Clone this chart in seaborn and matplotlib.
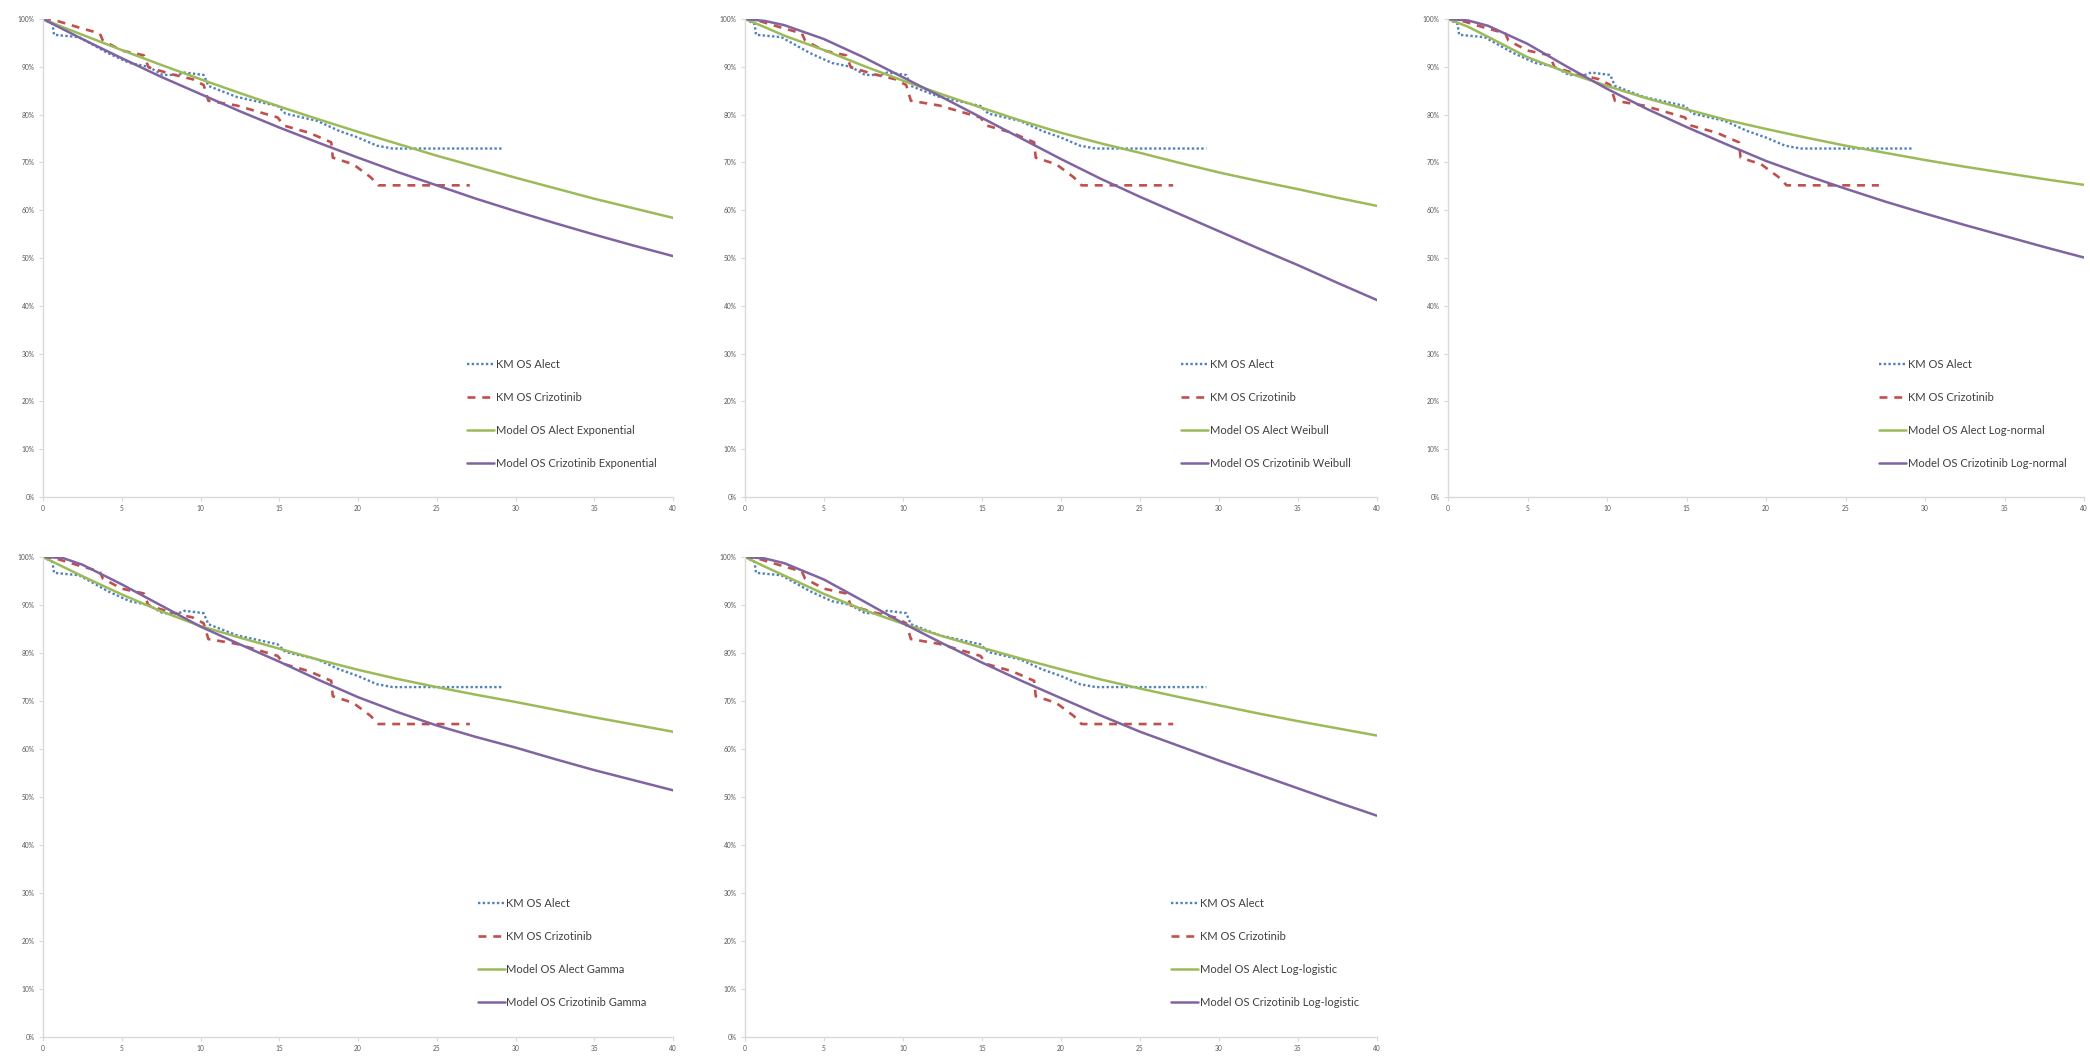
import numpy as np
import pandas as pd
import matplotlib
matplotlib.use("Agg")
import matplotlib.pyplot as plt
import seaborn as sns
from matplotlib.ticker import FuncFormatter

# ---------------- data ----------------
km_alect_t = [0, 0.6, 0.7, 2.3, 4.1, 5.5, 6.7, 7.6, 8.6, 9.0, 10.2, 10.5, 12.3, 14.9, 15.4,
              17.4, 18.8, 20.0, 21.2, 22.2, 29.2]
km_alect_s = [100, 99.0, 96.7, 96.2, 92.9, 90.8, 90.0, 88.3, 88.3, 88.8, 88.3, 86.0, 83.7, 81.8,
              80.2, 78.7, 76.6, 75.2, 73.5, 72.9, 72.9]

km_criz_t = [0, 1.0, 2.5, 3.6, 3.8, 5.0, 6.4, 6.7, 8.1, 9.5, 10.2, 10.5, 12.3, 14.9, 15.3,
             16.9, 18.3, 18.4, 19.7, 20.8, 21.3, 27.1]
km_criz_s = [100, 99.5, 98.0, 97.0, 95.5, 93.4, 92.4, 89.9, 88.5, 87.4, 86.2, 82.9, 81.9, 79.4,
             77.7, 76.2, 74.2, 71.0, 69.6, 66.9, 65.2, 65.2]

model_t = [0, 1.25, 2.5, 5, 7.5, 10, 12.5, 15, 17.5, 20, 22.5, 25, 27.5, 30, 32.5, 35, 37.5, 40]

alect_exponential = [100, 98.3, 96.7, 93.5, 90.4, 87.4, 84.5, 81.7, 79.0, 76.4, 73.9, 71.4, 69.1, 66.8, 64.6, 62.4, 60.4, 58.4]
criz_exponential = [100, 97.9, 95.8, 91.8, 87.9, 84.3, 80.7, 77.3, 74.1, 71.0, 68.0, 65.2, 62.4, 59.8, 57.3, 54.9, 52.6, 50.4]

alect_weibull = [100, 98.3, 96.5, 93.5, 90.2, 87.1, 84.2, 81.4, 78.7, 76.2, 74.0, 72.0, 69.9, 67.9, 66.1, 64.4, 62.6, 60.9]
criz_weibull = [100, 99.6, 98.7, 95.8, 92.0, 87.8, 83.6, 79.3, 75.0, 70.7, 66.6, 62.8, 59.2, 55.6, 52.0, 48.5, 44.8, 41.2]

alect_lognormal = [100, 98.4, 96.3, 92.0, 88.8, 86.0, 83.4, 81.1, 78.9, 77.0, 75.2, 73.5, 72.0, 70.5, 69.1, 67.8, 66.5, 65.3]
criz_lognormal = [100, 99.7, 98.6, 94.8, 90.0, 85.4, 81.2, 77.4, 73.8, 70.3, 67.3, 64.5, 61.8, 59.3, 56.9, 54.6, 52.3, 50.1]

alect_gamma = [100, 98.0, 96.0, 92.2, 88.7, 85.6, 83.2, 80.9, 78.6, 76.5, 74.6, 72.9, 71.3, 69.8, 68.2, 66.6, 65.1, 63.6]
criz_gamma = [100, 99.8, 98.4, 94.3, 89.9, 85.5, 81.8, 78.2, 74.4, 70.8, 67.7, 64.9, 62.5, 60.3, 57.9, 55.6, 53.5, 51.4]

alect_loglogistic = [100, 98.0, 96.1, 92.3, 89.0, 86.1, 83.5, 81.1, 78.8, 76.6, 74.5, 72.6, 70.8, 69.1, 67.4, 65.8, 64.3, 62.8]
criz_loglogistic = [100, 99.7, 98.7, 95.3, 90.8, 86.2, 82.0, 78.0, 74.2, 70.6, 67.0, 63.6, 60.6, 57.6, 54.7, 51.8, 48.9, 46.1]

model_names = ["Exponential", "Weibull", "Log-normal", "Gamma", "Log-logistic"]
alect_models = [alect_exponential, alect_weibull, alect_lognormal, alect_gamma, alect_loglogistic]
criz_models = [criz_exponential, criz_weibull, criz_lognormal, criz_gamma, criz_loglogistic]

x_ticks = [0, 5, 10, 15, 20, 25, 30, 35, 40]
y_ticks = [0, 10, 20, 30, 40, 50, 60, 70, 80, 90, 100]

# ---------------- style ----------------
sns.set_theme(style="white")
plt.rcParams["font.family"] = ["Lato", "DejaVu Sans"]

C_BLUE = "#4f81bd"
C_RED = "#c0504d"
C_GREEN = "#9bbb59"
C_PURPLE = "#8064a2"
AX_GRAY = "#d9d9d9"
TXT = "#595959"

W, H = 2090, 1056
fig = plt.figure(figsize=(W / 100, H / 100), dpi=100)

def frac_box(x0, y0, x1, y1):
    return [x0 / W, 1 - y1 / H, (x1 - x0) / W, (y1 - y0) / H]

boxes = [
    frac_box(43, 19, 673, 497),
    frac_box(745, 19, 1377, 497),
    frac_box(1448, 19, 2084, 497),
    frac_box(43, 557, 673, 1037),
    frac_box(745, 557, 1377, 1037),
]
legend_x = [0.673, 0.690, 0.678, 0.690, 0.674]

for i, name in enumerate(model_names):
    ax = fig.add_axes(boxes[i])
    sns.lineplot(x=km_alect_t, y=km_alect_s, ax=ax, color=C_BLUE, lw=1.7,
                 linestyle=(0, (1, 1)), label="KM OS Alect", sort=False, estimator=None)
    sns.lineplot(x=km_criz_t, y=km_criz_s, ax=ax, color=C_RED, lw=1.9,
                 linestyle=(0, (3, 2.6)), label="KM OS Crizotinib", sort=False, estimator=None)
    sns.lineplot(x=model_t, y=alect_models[i], ax=ax, color=C_GREEN, lw=1.8,
                 label=f"Model OS Alect {name}", sort=False, estimator=None)
    sns.lineplot(x=model_t, y=criz_models[i], ax=ax, color=C_PURPLE, lw=1.8,
                 label=f"Model OS Crizotinib {name}", sort=False, estimator=None)

    ax.set_xlim(0, 40)
    ax.set_ylim(0, 100)
    ax.set_xticks(x_ticks)
    ax.set_yticks(y_ticks)
    ax.yaxis.set_major_formatter(FuncFormatter(lambda v, p: f"{int(round(v))}%"))
    ax.set_xlabel("")
    ax.set_ylabel("")
    for s in ["top", "right"]:
        ax.spines[s].set_visible(False)
    for s in ["left", "bottom"]:
        ax.spines[s].set_color(AX_GRAY)
        ax.spines[s].set_linewidth(1.0)
    ax.tick_params(axis="both", which="major", length=3, width=0.8, color=AX_GRAY,
                   labelsize=4.8, labelcolor=TXT, pad=3, direction="out",
                   bottom=True, left=True)
    ax.set_facecolor("white")

    leg = ax.legend(loc="upper left", bbox_to_anchor=(legend_x[i], 0.289),
                    frameon=False, fontsize=8.0, handlelength=2.45, handletextpad=0.12,
                    labelspacing=1.97, borderaxespad=0, borderpad=0)
    for t in leg.get_texts():
        t.set_color("#404040")

fig.savefig("out.png", dpi=100, facecolor="white")
